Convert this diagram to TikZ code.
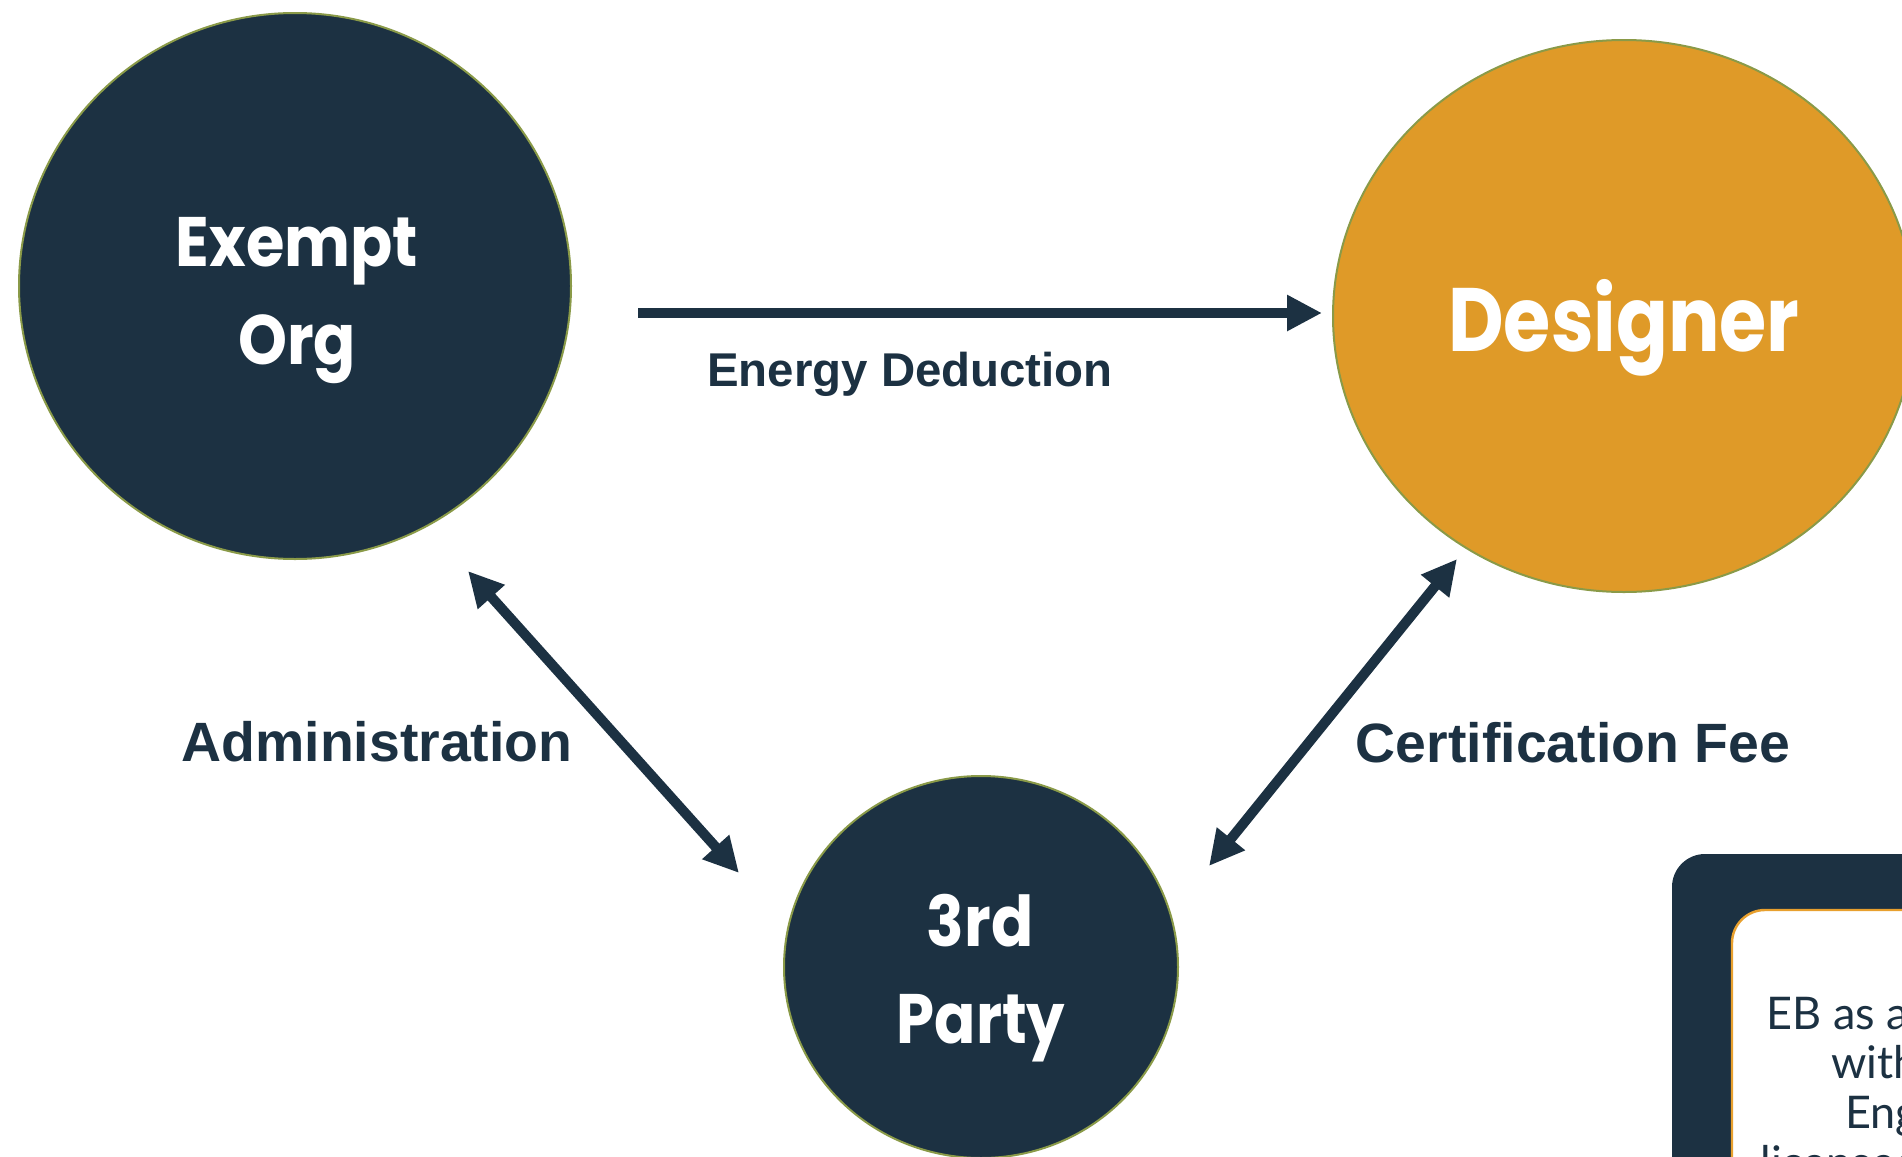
\documentclass[tikz,border=0pt]{standalone}
\usepackage{fontspec}
\setmainfont{Liberation Sans}
\newfontfamily\circfont{Poppins}
\newfontfamily\notefont{Lato}
\usetikzlibrary{arrows.meta,shapes.geometric}
\definecolor{navy}{HTML}{1C3142}
\definecolor{amber}{HTML}{DF9A28}
\definecolor{olive}{HTML}{8A9A48}
\definecolor{gold}{HTML}{E8A02E}

\begin{document}
\begin{tikzpicture}[x=0.5pt,y=-0.5pt,
        party/.style={ellipse,draw=olive,line width=1pt,inner sep=0pt},
        flow/.style={navy,line width=5pt,-{Triangle[length=17.5pt,width=17pt]}},
        flowboth/.style={flow,{Triangle[length=17.5pt,width=17pt]}-{Triangle[length=17.5pt,width=17pt]}},
        ctext/.style={text=white,font=\circfont\bfseries\fontsize{35}{42}\selectfont,anchor=base,inner sep=0pt},
        lbl/.style={text=navy,font=\bfseries\fontsize{27.7}{33}\selectfont,anchor=base,inner sep=0pt},
        note/.style={text=navy,font=\notefont\fontsize{22.5}{27}\selectfont,anchor=base west,inner sep=0pt}]
        \useasboundingbox (0,0) rectangle (1902,1157);
        \clip (0,0) rectangle (1902,1157);
        % parties
        \node[party,fill=navy,minimum width=276pt,minimum height=273pt] (exempt) at (295,286) {};
        \node[party,fill=amber,minimum width=291pt,minimum height=276pt] (designer) at (1624,316) {};
        \node[party,fill=navy,minimum width=197pt,minimum height=191pt] (third) at (981,967) {};
        \node[ctext] (exempt-l1) at (297,266) {\scalebox{0.89}[1]{Exempt}};
        \node[ctext] (exempt-l2) at (297,364) {\scalebox{0.89}[1]{Org}};
        \node[ctext,font=\circfont\bfseries\fontsize{45}{54}\selectfont] (designer-l) at (1624,351) {\scalebox{0.85}[1]{Designer}};
        \node[ctext] (third-l1) at (980,946) {\scalebox{0.89}[1]{3rd}};
        \node[ctext] (third-l2) at (981,1043) {\scalebox{0.87}[1]{Party}};
        % flows
        \coordinate (ed-from) at (638,313);
        \coordinate (ed-to) at (1322,313);
        \coordinate (adm-a) at (468,571);
        \coordinate (adm-b) at (739,873);
        \coordinate (cf-a) at (1457,559);
        \coordinate (cf-b) at (1209,866);
        \draw[flow] (ed-from) -- (ed-to);
        \draw[flowboth] (adm-a) -- (adm-b);
        \draw[flowboth] (cf-a) -- (cf-b);
        \node[lbl,font=\bfseries\fontsize{23.7}{28}\selectfont] (ed-lbl) at (910,386) {Energy Deduction};
        \node[lbl] (adm-lbl) at (377,761) {Administration};
        \node[lbl] (cf-lbl) at (1573,762) {Certification Fee};
        % note box
        \fill[navy,rounded corners=16.5pt] (1672,854) rectangle (1990,1240);
        \draw[gold,fill=white,line width=1.2pt,rounded corners=16.5pt] (1732,910) rectangle (1990,1240);
        \node[note] (note-1) at (1766,1029) {EB as a};
        \node[note] (note-2) at (1831,1078) {with};
        \node[note] (note-3) at (1845,1128) {Eng};
        \node[note] (note-4) at (1760,1178) {licensed};
    \end{tikzpicture}
\end{document}
